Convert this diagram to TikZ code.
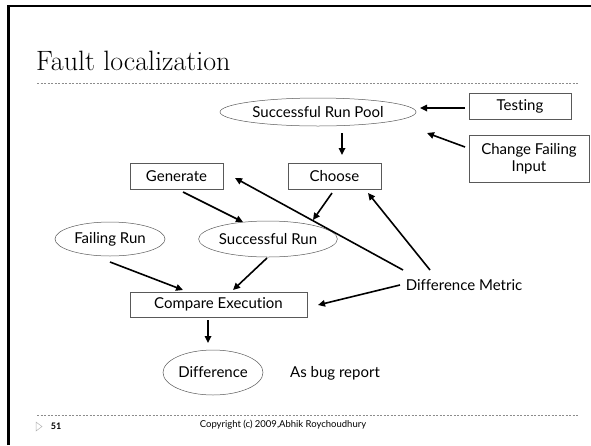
\documentclass[tikz,border=0pt]{standalone}
\usepackage{fontspec}
\setsansfont[Ligatures=NoCommon]{Lato}
\usetikzlibrary{shapes.geometric,arrows.meta,calc}
\begin{document}
\begin{tikzpicture}[x=1pt,y=-1pt,
  txt/.style={font=\sffamily\fontsize{15}{17}\selectfont},
  box/.style={txt,draw=black!65,line width=0.6pt,rectangle,inner sep=0pt,align=center},
  ell/.style={txt,draw=black!65,line width=0.5pt,ellipse,inner sep=0pt},
  lbl/.style={txt,inner sep=0pt},
  arr/.style={line width=1.6pt,-{Triangle[length=7pt,width=6.5pt]}},
  rule/.style={draw=black!45,line width=0.8pt,dash pattern=on 2pt off 1.5pt}]
\useasboundingbox (0,0) rectangle (591,445);
% slide frame
\draw[line width=2.4pt] (8.5,445) -- (8.5,6.2) -- (591,6.2);
% title and rules
\node[anchor=base west,inner sep=0pt,font=\fontsize{28}{30}\selectfont] (title) at (36,70) {Fault localization};
\draw[rule] (37,83) -- (578,83);
\draw[rule] (37,415) -- (578,415);
% footer
\draw[draw=black!30,line width=0.5pt] (36,422) -- (42,426.5) -- (36,431) -- cycle;
\node[inner sep=0pt,font=\sffamily\bfseries\fontsize{9}{10}\selectfont] (page) at (56,426) {51};
\node[inner sep=0pt,font=\sffamily\fontsize{9.5}{10}\selectfont] (copy) at (283,425) {Copyright (c) 2009,Abhik Roychoudhury};
% nodes
\node[ell,minimum width=196pt,minimum height=28pt] (srp) at (318,112) {Successful Run Pool};
\node[box,minimum width=102pt,minimum height=26pt] (testing) at (520,106.5) {Testing};
\node[box,minimum width=120pt,minimum height=47pt] (cfi) at (529,158.5) {Change Failing\\Input};
\node[box,minimum width=93pt,minimum height=26pt] (choose) at (334.5,176) {Choose};
\node[box,minimum width=93pt,minimum height=26pt] (gen) at (176.5,176) {Generate};
\node[ell,minimum width=110pt,minimum height=34pt] (fr) at (110,239) {Failing Run};
\node[ell,minimum width=138pt,minimum height=36pt] (sr) at (268,239) {Successful Run};
\node[box,minimum width=177pt,minimum height=25pt] (cmp) at (218.5,304.5) {Compare Execution};
\node[ell,minimum width=100pt,minimum height=45pt] (diff) at (213,372.5) {Difference};
\node[lbl] (bug) at (335,373) {As bug report};
\node[lbl] (dm) at (464,285) {Difference Metric};
% connectors
\draw[arr] ($(testing)+(-55,1.5)$) -- ($(srp)+(102,-4)$);
\draw[arr] ($(cfi)+(-64,-11.5)$) -- ($(srp)+(109,21)$);
\draw[arr] ($(srp)+(24,21)$) -- ($(choose)+(7.5,-21)$);
\draw[arr] ($(choose)+(-2.5,17)$) -- ($(sr)+(45,-19)$);
\draw[arr] ($(gen)+(6.5,16)$) -- ($(sr)+(-25,-17)$);
\draw[arr] ($(dm)+(-61,-15)$) -- ($(gen)+(58.5,2)$);
\draw[arr] ($(dm)+(-34,-15)$) -- ($(choose)+(33.5,17)$);
\draw[arr] ($(dm)+(-64,0)$) -- ($(cmp)+(99.5,0.5)$);
\draw[arr] ($(fr)+(0,23)$) -- ($(cmp)+(-35.5,-14.5)$);
\draw[arr] ($(sr)+(-1,19)$) -- ($(cmp)+(14.5,-14.5)$);
\draw[arr] ($(cmp)+(-10.5,15.5)$) -- ($(diff)+(-5,-29.5)$);
\end{tikzpicture}
\end{document}
